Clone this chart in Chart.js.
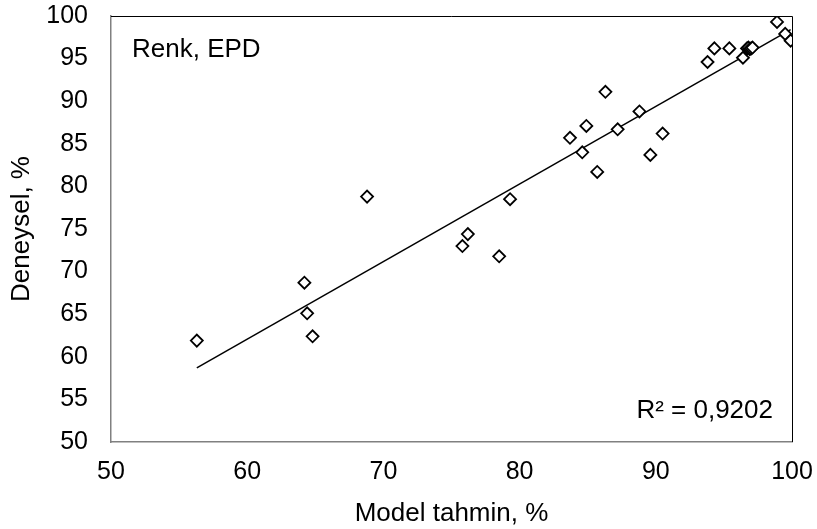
<!DOCTYPE html>
<html lang="tr">
<head>
    <meta charset="UTF-8">
    <title>Renk, EPD</title>
    <script src="https://cdn.jsdelivr.net/npm/chart.js"></script>
    <style>
        body { margin: 0; background: #fff; }
        #wrap { width: 817px; height: 529px; }
    </style>
</head>
<body>
    <div id="wrap">
        <canvas id="epdChart" width="817" height="529"></canvas>
    </div>

    <script>
        // model prediction (x) vs experimental (y), %
        const modelX = [56.3, 64.2, 64.4, 64.8, 68.8, 75.8, 76.2, 78.5, 79.3, 83.7,
                        84.6, 84.9, 85.7, 86.3, 87.2, 88.8, 89.6, 90.5, 93.8, 94.3,
                        95.4, 96.4, 96.7, 96.8, 96.9, 97.0, 97.1, 98.9, 99.5, 99.9];
        const deneyselY = [61.9, 68.7, 65.1, 62.4, 78.8, 73.0, 74.4, 71.8, 78.5, 85.7,
                           84.0, 87.1, 81.7, 91.1, 86.7, 88.8, 83.7, 86.2, 94.6, 96.2,
                           96.2, 95.1, 96.2, 96.3, 96.1, 96.2, 96.3, 99.3, 97.9, 97.1];
        // trendline end points
        const trendX = [56.3, 99.9];
        const trendY = [58.7, 98.4];
        const r2Text = 'R² = 0,9202';
        const chartTitle = 'Renk, EPD';

        const font = 'Liberation Sans, Arial, sans-serif';

        const textPlugin = {
            id: 'texts',
            afterDraw(chart) {
                const { ctx, chartArea } = chart;
                ctx.save();
                // plot frame (top/right darker like the original)
                ctx.strokeStyle = '#000';
                ctx.lineWidth = 1;
                ctx.beginPath();
                ctx.moveTo(chartArea.left, chartArea.top + 0.5);
                ctx.lineTo(chartArea.right + 0.5, chartArea.top + 0.5);
                ctx.lineTo(chartArea.right + 0.5, chartArea.bottom);
                ctx.stroke();

                ctx.fillStyle = '#000';
                ctx.font = '26px ' + font;
                ctx.textBaseline = 'alphabetic';
                ctx.textAlign = 'left';
                ctx.fillText(chartTitle, chartArea.left + 21, chartArea.top + 41);
                ctx.textAlign = 'right';
                ctx.fillText(r2Text, chartArea.right - 19, chartArea.bottom - 24);
                ctx.restore();
            }
        };

        const ctx = document.getElementById('epdChart').getContext('2d');
        new Chart(ctx, {
            type: 'scatter',
            data: {
                datasets: [
                    {
                        label: 'Deneysel',
                        data: modelX.map((x, i) => ({ x: x, y: deneyselY[i] })),
                        pointStyle: 'rectRot',
                        pointRadius: 6,
                        pointBackgroundColor: '#fff',
                        pointBorderColor: '#000',
                        pointBorderWidth: 1.8,
                        showLine: false
                    },
                    {
                        label: 'Trend',
                        data: trendX.map((x, i) => ({ x: x, y: trendY[i] })),
                        showLine: true,
                        borderColor: '#000',
                        borderWidth: 1.5,
                        pointRadius: 0,
                        fill: false
                    }
                ]
            },
            options: {
                responsive: false,
                animation: false,
                layout: { padding: { top: 16, right: 25, left: 0, bottom: 0 } },
                plugins: {
                    legend: { display: false },
                    tooltip: { enabled: false }
                },
                scales: {
                    x: {
                        type: 'linear',
                        min: 50,
                        max: 100,
                        // tickLength only offsets the labels, grid itself is hidden
                        grid: { display: false, drawTicks: true, tickLength: 15 },
                        border: { display: true, color: '#808080', width: 1.5 },
                        ticks: {
                            stepSize: 10,
                            color: '#000',
                            padding: 0,
                            maxRotation: 0,
                            font: { family: font, size: 25 }
                        },
                        title: {
                            display: true,
                            text: 'Model tahmin, %',
                            color: '#000',
                            padding: { top: 0, bottom: 0 },
                            font: { family: font, size: 26 }
                        },
                        afterFit(scale) { scale.height = 87; }
                    },
                    y: {
                        min: 50,
                        max: 100,
                        grid: { display: false, drawTicks: true, tickLength: 23 },
                        border: { display: true, color: '#808080', width: 1.5 },
                        ticks: {
                            stepSize: 5,
                            color: '#000',
                            padding: 0,
                            font: { family: font, size: 25 }
                        },
                        title: {
                            display: true,
                            text: 'Deneysel, %',
                            color: '#000',
                            padding: { top: 6, bottom: 0 },
                            font: { family: font, size: 26 }
                        },
                        afterFit(scale) { scale.width = 111; }
                    }
                }
            },
            plugins: [textPlugin]
        });
    </script>
</body>
</html>
